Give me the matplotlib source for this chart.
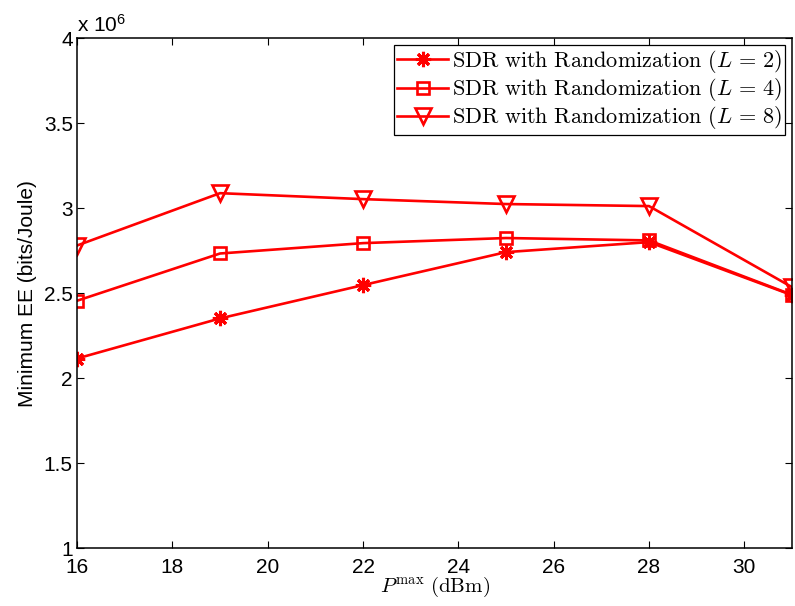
import numpy as np
import matplotlib
matplotlib.use('Agg')
import matplotlib.pyplot as plt
from matplotlib.ticker import FormatStrFormatter

plt.rcParams['mathtext.fontset'] = 'cm'
plt.rcParams['font.family'] = ['Liberation Sans', 'DejaVu Sans']

# transmit power budget (dBm) and minimum EE in units of 1e6 bits/Joule
p_max = [16, 19, 22, 25, 28, 31]
ee_L2 = [2.115, 2.351, 2.547, 2.741, 2.800, 2.488]
ee_L4 = [2.455, 2.733, 2.794, 2.824, 2.810, 2.490]
ee_L8 = [2.780, 3.088, 3.053, 3.024, 3.012, 2.535]
labels = [r'$\mathrm{SDR\ with\ Randomization}\ (L\,=\,2)$',
          r'$\mathrm{SDR\ with\ Randomization}\ (L\,=\,4)$',
          r'$\mathrm{SDR\ with\ Randomization}\ (L\,=\,8)$']

fig = plt.figure(figsize=(7.95, 6.06), dpi=100)
ax = fig.add_axes([0.0969, 0.0957, 0.8993, 0.8413])

red = '#ff0000'
ax.plot(p_max, ee_L2, color=red, lw=1.9, marker=(8, 2, 0), ms=11, mew=2.2, label=labels[0])
ax.plot(p_max, ee_L4, color=red, lw=1.9, marker='s', ms=9, mew=1.9, mfc='none', label=labels[1])
ax.plot(p_max, ee_L8, color=red, lw=1.9, marker='v', ms=12, mew=1.9, mfc='none', label=labels[2])

ax.set_xlim(16, 31)
ax.set_ylim(1, 4)
ax.set_xticks(np.arange(16, 31, 2))
ax.set_yticks(np.arange(1, 4.01, 0.5))
ax.yaxis.set_major_formatter(FormatStrFormatter('%g'))
ax.tick_params(direction='in', top=True, right=True, length=5, width=0.8, labelsize=15)
ax.tick_params(axis='x', pad=7)
ax.tick_params(axis='y', pad=3)
for s in ax.spines.values():
    s.set_linewidth(1.1)

ax.text(0.0, 1.005, r'x 10$\mathregular{^6}$', transform=ax.transAxes, fontsize=15, va='bottom', ha='left')
ax.set_xlabel(r'$P^{\max}\ \mathrm{(dBm)}$', fontsize=15, labelpad=-1)
ax.set_ylabel('Minimum EE (bits/Joule)', fontsize=15, labelpad=5)

leg = ax.legend(loc='upper right', fontsize=16, fancybox=False, edgecolor='black',
                framealpha=1, handlelength=2.3, borderaxespad=0.3, borderpad=0.15,
                labelspacing=0.05, handletextpad=0.15)
leg.get_frame().set_linewidth(0.9)

fig.savefig('out.png', dpi=100)
